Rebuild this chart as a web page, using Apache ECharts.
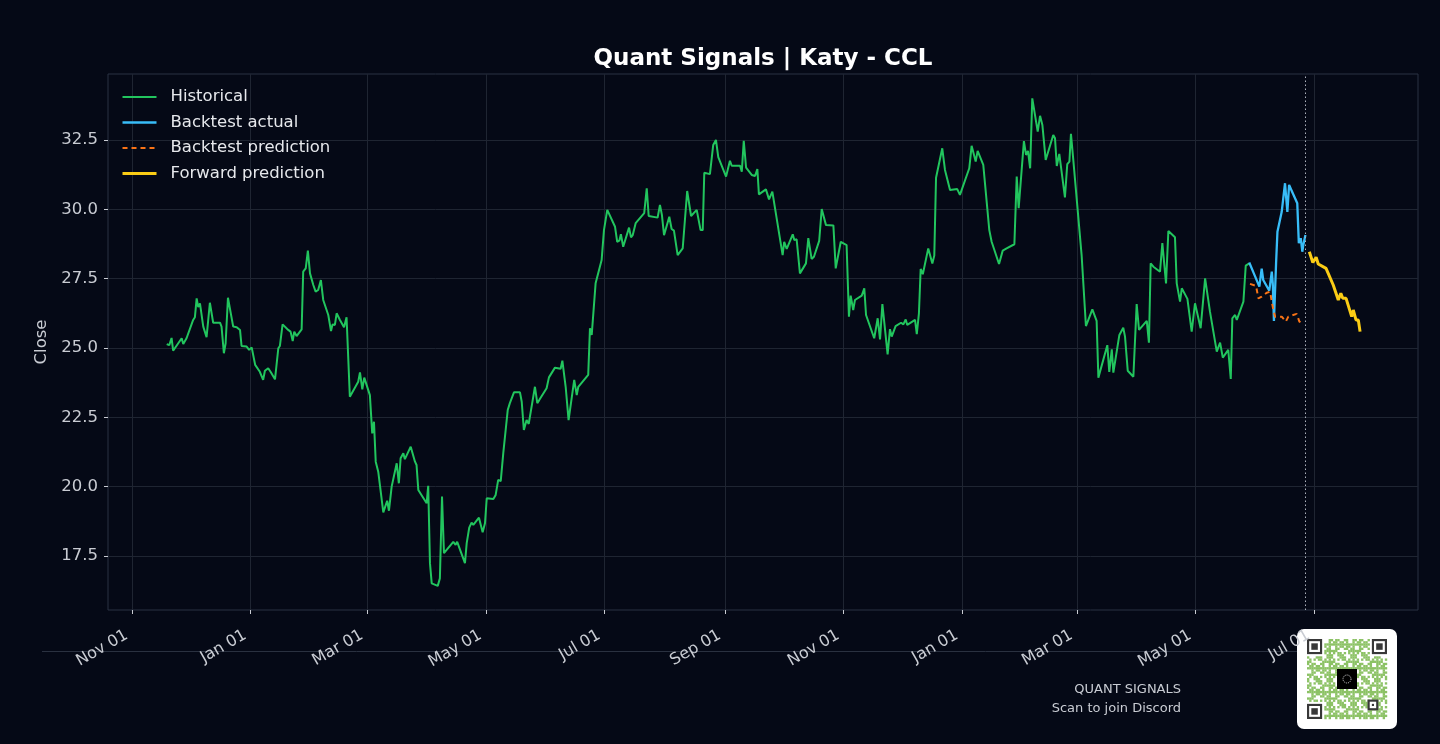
<!DOCTYPE html>
<html>
<head>
<meta charset="utf-8">
<script src="https://cdn.jsdelivr.net/npm/echarts@6/dist/echarts.min.js"></script>
<style>
  html, body { margin: 0; padding: 0; background: #050916; }
  #chart { width: 1440px; height: 744px; }
</style>
</head>
<body>
<div id="chart"></div>
<script>
// days are counted from 2023-11-01 (UTC)
const BASE = Date.parse('2023-11-01');
const DAY = 86400000;

const xTickDates = ['2023-11-01', '2024-01-01', '2024-03-01', '2024-05-01', '2024-07-01', '2024-09-01',
  '2024-11-01', '2025-01-01', '2025-03-01', '2025-05-01', '2025-07-01'];
const yTicks = [17.5, 20, 22.5, 25, 27.5, 30, 32.5];
const MONTHS = ['Jan', 'Feb', 'Mar', 'Apr', 'May', 'Jun', 'Jul', 'Aug', 'Sep', 'Oct', 'Nov', 'Dec'];

const histDay = [17.9, 19.2, 20.4, 21.2, 25.6, 26.4, 28.1, 31.5, 32.4, 33.3, 34.1, 35.0, 36.7, 38.4, 40.1, 41.8, 45.3, 46.1, 47.3, 48.2,
  49.4, 52.1, 53.9, 55.6, 56.4, 59.0, 60.3, 61.6, 62.4, 63.4, 65.8, 67.5, 68.4, 70.1, 71.3, 73.6, 75.3, 76.1, 77.5, 80.4,
  81.6, 82.7, 83.5, 84.7, 87.3, 88.1, 89.4, 90.5, 91.6, 93.3, 94.5, 95.8, 97.2, 98.4, 101.0, 102.4, 103.2, 104.4, 105.3, 107.0,
  109.1, 110.4, 112.1, 116.4, 117.3, 118.5, 119.5, 122.4, 123.6, 124.5, 125.4, 126.7, 129.3, 130.1, 131.3, 132.2, 133.6, 136.2, 137.3, 138.2,
  139.6, 140.4, 143.4, 145.6, 146.4, 147.3, 151.6, 152.4, 153.3, 154.2, 157.3, 158.4, 159.5, 160.5, 165.3, 166.5, 167.3, 171.3, 172.2, 173.5,
  174.7, 175.6, 178.5, 180.4, 181.6, 182.5, 185.9, 187.1, 188.4, 189.7, 191.0, 193.3, 194.4, 195.3, 196.5, 199.6, 200.5, 201.6, 203.0, 204.1,
  207.3, 208.5, 209.5, 213.3, 214.5, 215.4, 217.6, 220.5, 221.4, 223.1, 224.6, 227.5, 228.8, 229.6, 234.7, 235.6, 236.5, 238.5, 241.6, 242.8,
  244.5, 248.5, 249.6, 250.7, 251.5, 252.7, 255.7, 256.7, 257.6, 259.1, 263.5, 264.8, 265.8, 270.4, 271.6, 272.6, 273.7, 276.4, 277.6, 278.8,
  280.7, 283.3, 285.6, 287.6, 290.5, 292.5, 293.6, 294.4, 297.3, 299.0, 300.4, 301.6, 305.6, 307.6, 308.5, 312.8, 313.7, 314.7, 315.9, 318.8,
  320.5, 321.7, 322.5, 326.1, 327.7, 329.4, 334.7, 335.5, 336.8, 339.9, 340.7, 341.9, 343.6, 346.7, 347.9, 348.8, 349.6, 350.8, 353.5, 354.8,
  355.6, 357.0, 360.8, 362.0, 362.8, 364.6, 367.6, 368.8, 369.7, 371.0, 371.9, 375.4, 376.7, 377.6, 381.8, 383.6, 384.8, 386.0, 388.7, 389.9,
  390.8, 392.8, 395.6, 396.8, 398.0, 398.8, 402.8, 403.7, 404.8, 405.7, 406.8, 409.6, 411.7, 412.7, 413.6, 416.8, 418.2, 420.8, 424.5, 425.9,
  430.7, 431.9, 434.0, 435.0, 437.9, 441.0, 442.2, 446.0, 447.9, 449.9, 453.9, 455.1, 456.1, 458.8, 459.9, 460.9, 462.0, 463.1, 465.9, 467.1,
  468.3, 470.0, 473.9, 474.8, 475.7, 477.0, 479.9, 481.1, 482.2, 483.0, 484.2, 488.5, 490.7, 494.0, 496.2, 497.1, 501.7, 502.7, 504.0, 504.8,
  507.9, 509.9, 510.8, 512.2, 515.1, 516.8, 518.0, 522.0, 523.1, 524.0, 525.4, 528.8, 530.0, 531.0, 531.9, 533.1, 536.5, 537.4, 539.1, 540.0,
  542.9, 545.1, 546.8, 549.7, 552.0, 554.5, 558.0, 559.7, 561.1, 563.9, 565.2, 566.0, 567.4, 568.3, 571.7, 572.9, 573.7, 574.7];
const histClose = [25.14, 25.10, 25.36, 24.90, 25.35, 25.14, 25.35, 26.01, 26.11, 26.79, 26.47, 26.61, 25.77, 25.39, 26.63, 25.91, 25.91, 25.77, 24.81, 25.17,
  26.81, 25.77, 25.75, 25.65, 25.07, 25.05, 24.93, 25.02, 25.02, 24.39, 24.14, 23.85, 24.18, 24.27, 24.14, 23.87, 24.99, 25.07, 25.85, 25.65,
  25.59, 25.25, 25.59, 25.43, 25.67, 27.75, 27.87, 28.51, 27.69, 27.27, 27.03, 27.09, 27.45, 26.73, 26.19, 25.61, 25.85, 25.83, 26.25, 26.01,
  25.75, 26.11, 23.24, 23.78, 24.12, 23.51, 23.93, 23.30, 21.92, 22.34, 20.90, 20.54, 19.07, 19.10, 19.49, 19.13, 20.00, 20.84, 20.12, 21.02,
  21.20, 20.99, 21.44, 20.90, 20.78, 19.88, 19.40, 20.03, 17.24, 16.51, 16.42, 16.69, 19.64, 17.60, 18.01, 17.90, 18.01, 17.24, 17.96, 18.52,
  18.70, 18.62, 18.88, 18.35, 18.68, 19.58, 19.55, 19.70, 20.24, 20.20, 21.20, 22.76, 23.01, 23.03, 23.40, 23.40, 23.06, 22.04, 22.40, 22.26,
  23.60, 23.01, 23.12, 23.55, 23.94, 23.87, 24.29, 24.25, 24.54, 23.60, 22.40, 23.85, 23.30, 23.60, 24.03, 25.71, 25.47, 27.33, 28.17, 29.25,
  29.98, 29.37, 28.83, 28.87, 29.10, 28.65, 29.34, 28.99, 29.07, 29.50, 29.86, 30.76, 29.76, 29.70, 30.16, 29.80, 29.07, 29.73, 29.29, 29.23,
  28.35, 28.59, 30.66, 29.76, 29.98, 29.25, 29.25, 31.32, 31.27, 32.32, 32.50, 31.88, 31.18, 31.75, 31.57, 31.57, 31.36, 32.47, 31.50, 31.24,
  31.20, 31.45, 30.54, 30.72, 30.36, 30.64, 28.35, 28.83, 28.57, 29.10, 28.89, 28.92, 27.69, 28.05, 28.96, 28.89, 28.21, 28.29, 28.86, 30.01,
  30.00, 29.43, 29.42, 27.87, 27.87, 28.83, 28.71, 26.13, 26.89, 26.37, 26.73, 26.89, 27.15, 26.19, 25.35, 26.07, 25.31, 26.58, 24.77, 25.68,
  25.41, 25.79, 25.91, 25.85, 26.03, 25.83, 26.01, 25.50, 26.25, 27.85, 27.66, 28.59, 28.05, 28.33, 31.14, 32.20, 31.42, 30.70, 30.73, 30.52,
  31.48, 32.29, 31.72, 32.11, 31.60, 29.25, 28.83, 28.03, 28.51, 28.59, 28.74, 31.18, 30.04, 32.46, 31.96, 32.11, 31.48, 34.00, 32.80, 33.37,
  33.04, 31.78, 32.68, 32.56, 31.56, 32.00, 30.43, 31.63, 31.72, 32.72, 31.78, 28.33, 25.79, 26.39, 25.98, 23.93, 25.10, 24.14, 24.95, 24.11,
  25.47, 25.73, 25.41, 24.18, 23.96, 26.58, 25.65, 25.98, 25.19, 28.05, 27.93, 27.75, 28.78, 28.80, 27.33, 29.22, 28.99, 27.33, 26.67, 27.15,
  26.77, 25.59, 26.61, 25.71, 27.51, 26.31, 24.87, 25.19, 24.65, 24.93, 23.88, 26.07, 26.19, 26.01, 26.67, 27.97, 27.99, 28.05];

const btDay = [574.7, 577.6, 579.9, 581.1, 581.9, 584.0, 585.0, 586.3, 586.8, 587.4, 588.5, 589.2, 591.4, 593.1, 594.3, 595.2, 599.4, 600.2, 601.2, 602.0, 602.5, 603.6];
const btActual = [28.08, 27.60, 27.21, 27.86, 27.45, 27.19, 27.07, 27.75, 27.33, 25.97, 28.05, 29.19, 29.91, 30.94, 29.91, 30.88, 30.22, 28.78, 28.96, 28.47, 28.71, 29.07];

const predDay = [575.1, 578.2, 579.4, 581.1, 583.7, 585.4, 586.3, 587.1, 588.0, 591.4, 593.5, 594.8, 599.1, 600.5, 602.5];
const btPred = [27.31, 27.24, 26.79, 26.85, 26.99, 27.03, 26.67, 26.37, 26.13, 26.13, 25.95, 26.13, 26.23, 25.95, 25.87];

const fwdDay = [605.6, 607.4, 609.1, 610.2, 614.2, 617.9, 620.5, 621.8, 622.8, 624.5, 627.4, 628.2, 629.6, 630.8, 631.7];
const fwdClose = [28.47, 28.08, 28.27, 28.03, 27.87, 27.27, 26.73, 26.97, 26.79, 26.79, 26.13, 26.37, 26.01, 26.01, 25.59];

const ts = d => BASE + d * DAY;
const pairs = (days, vals) => days.map((d, i) => [ts(d), vals[i]]);
const xTickTs = xTickDates.map(s => Date.parse(s));

const TXT = '#c9ccd3';
const FONT = 'DejaVu Sans';

function fmtDate(v) {
  const d = new Date(v);
  return MONTHS[d.getUTCMonth()] + ' ' + String(d.getUTCDate()).padStart(2, '0');
}

// QR badge in the footer, decoration only
function qrBadge() {
  const x0 = 1307, y0 = 639, n = 37, m = 80 / n;
  const dark = '#383838', green = '#8cc265';
  const els = [{ type: 'rect', shape: { x: 1297, y: 629, width: 100, height: 100, r: 7 }, style: { fill: '#ffffff' } }];
  const finder = (r, c) => (r < 8 && c < 8) || (r < 8 && c >= n - 8) || (r >= n - 8 && c < 8);
  for (let r = 0; r < n; r++) {
    for (let c = 0; c < n; c++) {
      if (finder(r, c)) continue;
      if (((r * 73 + c * 151 + r * c * 29) % 11) < 6) {
        els.push({ type: 'rect', shape: { x: x0 + c * m, y: y0 + r * m, width: m + 0.2, height: m + 0.2 }, style: { fill: green } });
      }
    }
  }
  [[0, 0], [0, n - 7], [n - 7, 0]].forEach(([r, c]) => {
    const x = x0 + c * m, y = y0 + r * m;
    els.push({ type: 'rect', shape: { x, y, width: 7 * m, height: 7 * m }, style: { fill: dark } });
    els.push({ type: 'rect', shape: { x: x + m, y: y + m, width: 5 * m, height: 5 * m }, style: { fill: '#fff' } });
    els.push({ type: 'rect', shape: { x: x + 2 * m, y: y + 2 * m, width: 3 * m, height: 3 * m }, style: { fill: dark } });
  });
  const ax = x0 + 28 * m, ay = y0 + 28 * m;
  els.push({ type: 'rect', shape: { x: ax, y: ay, width: 5 * m, height: 5 * m }, style: { fill: dark } });
  els.push({ type: 'rect', shape: { x: ax + m, y: ay + m, width: 3 * m, height: 3 * m }, style: { fill: '#fff' } });
  els.push({ type: 'rect', shape: { x: ax + 2 * m, y: ay + 2 * m, width: m, height: m }, style: { fill: dark } });
  els.push({ type: 'rect', shape: { x: 1337, y: 669, width: 20, height: 20 }, style: { fill: '#000' } });
  els.push({ type: 'circle', shape: { cx: 1347, cy: 679, r: 4 }, style: { fill: 'none', stroke: '#ddd', lineWidth: 1, lineDash: [1, 1] } });
  return { type: 'group', children: els };
}

const chart = echarts.init(document.getElementById('chart'), null, { renderer: 'canvas' });

const option = {
  backgroundColor: '#050916',
  animation: false,
  textStyle: { fontFamily: FONT },
  title: {
    text: 'Quant Signals | Katy - CCL',
    left: 758,
    top: 43,
    textAlign: 'center',
    textStyle: { color: '#ffffff', fontSize: 23, fontWeight: 'bold', fontFamily: FONT }
  },
  legend: {
    orient: 'vertical',
    left: 116,
    top: 83,
    itemWidth: 34,
    itemHeight: 18,
    itemGap: 7.5,
    itemStyle: { color: 'transparent', borderWidth: 0, opacity: 0 },
    textStyle: { color: '#e6e8ec', fontSize: 16.5, fontFamily: FONT, padding: [0, 0, 0, 9], lineHeight: 18 },
    data: [
      { name: 'Historical', lineStyle: { width: 2 } },
      { name: 'Backtest actual', lineStyle: { width: 2.3 } },
      { name: 'Backtest prediction', lineStyle: { width: 2, type: [5, 4] } },
      { name: 'Forward prediction', lineStyle: { width: 3 } }
    ]
  },
  grid: {
    left: 108, right: 22, top: 74, bottom: 134,
    show: true, borderColor: '#2b3242', borderWidth: 1, backgroundColor: 'transparent'
  },
  xAxis: {
    type: 'value',
    min: ts(-12.3),
    max: ts(661.5),
    axisLine: { show: false },
    axisTick: { show: true, length: 4, customValues: xTickTs, lineStyle: { color: TXT } },
    axisLabel: {
      customValues: xTickTs,
      rotate: 30,
      margin: 21,
      padding: [0, 6, 0, 0],
      color: TXT,
      fontSize: 16,
      fontFamily: FONT,
      formatter: v => fmtDate(v)
    },
    splitLine: { show: true, lineStyle: { color: '#1f2532', width: 1 } }
  },
  yAxis: {
    type: 'value',
    min: 15.55,
    max: 34.88,
    name: 'Close',
    nameLocation: 'middle',
    nameRotate: 90,
    nameGap: 58,
    nameTextStyle: { color: TXT, fontSize: 16.5, fontFamily: FONT },
    axisLine: { show: false },
    axisTick: { show: true, length: 4, customValues: yTicks, lineStyle: { color: TXT } },
    axisLabel: {
      customValues: yTicks,
      margin: 10,
      color: TXT,
      fontSize: 16.5,
      fontFamily: FONT,
      formatter: v => v.toFixed(1)
    },
    splitLine: { show: true, lineStyle: { color: '#1f2532', width: 1 } }
  },
  series: [
    {
      name: 'Historical',
      type: 'line',
      data: pairs(histDay, histClose),
      symbol: 'none',
      color: '#22c55e',
      lineStyle: { color: '#22c55e', width: 2 }
    },
    {
      name: 'Backtest actual',
      type: 'line',
      data: pairs(btDay, btActual),
      symbol: 'none',
      color: '#38bdf8',
      lineStyle: { color: '#38bdf8', width: 2.3 },
      markLine: {
        silent: true,
        symbol: ['none', 'none'],
        label: { show: false },
        lineStyle: { color: '#aeb3bd', type: [1.5, 2.5], width: 1 },
        data: [{ xAxis: ts(btDay[btDay.length - 1]) }]
      }
    },
    {
      name: 'Backtest prediction',
      type: 'line',
      data: pairs(predDay, btPred),
      symbol: 'none',
      color: '#f97316',
      lineStyle: { color: '#f97316', width: 2, type: [5, 4] }
    },
    {
      name: 'Forward prediction',
      type: 'line',
      data: pairs(fwdDay, fwdClose),
      symbol: 'none',
      color: '#facc15',
      lineStyle: { color: '#facc15', width: 3 }
    }
  ],
  graphic: [
    { type: 'line', z: -1, shape: { x1: 42, y1: 651.5, x2: 1300, y2: 651.5 }, style: { stroke: '#2a3140', lineWidth: 1 } },
    { type: 'text', style: { x: 1181, y: 690, text: 'QUANT SIGNALS', fill: TXT, font: '13px "DejaVu Sans"', textAlign: 'right', textVerticalAlign: 'middle' } },
    { type: 'text', style: { x: 1181, y: 709, text: 'Scan to join Discord', fill: TXT, font: '13px "DejaVu Sans"', textAlign: 'right', textVerticalAlign: 'middle' } },
    qrBadge()
  ]
};

chart.setOption(option);
</script>
</body>
</html>
